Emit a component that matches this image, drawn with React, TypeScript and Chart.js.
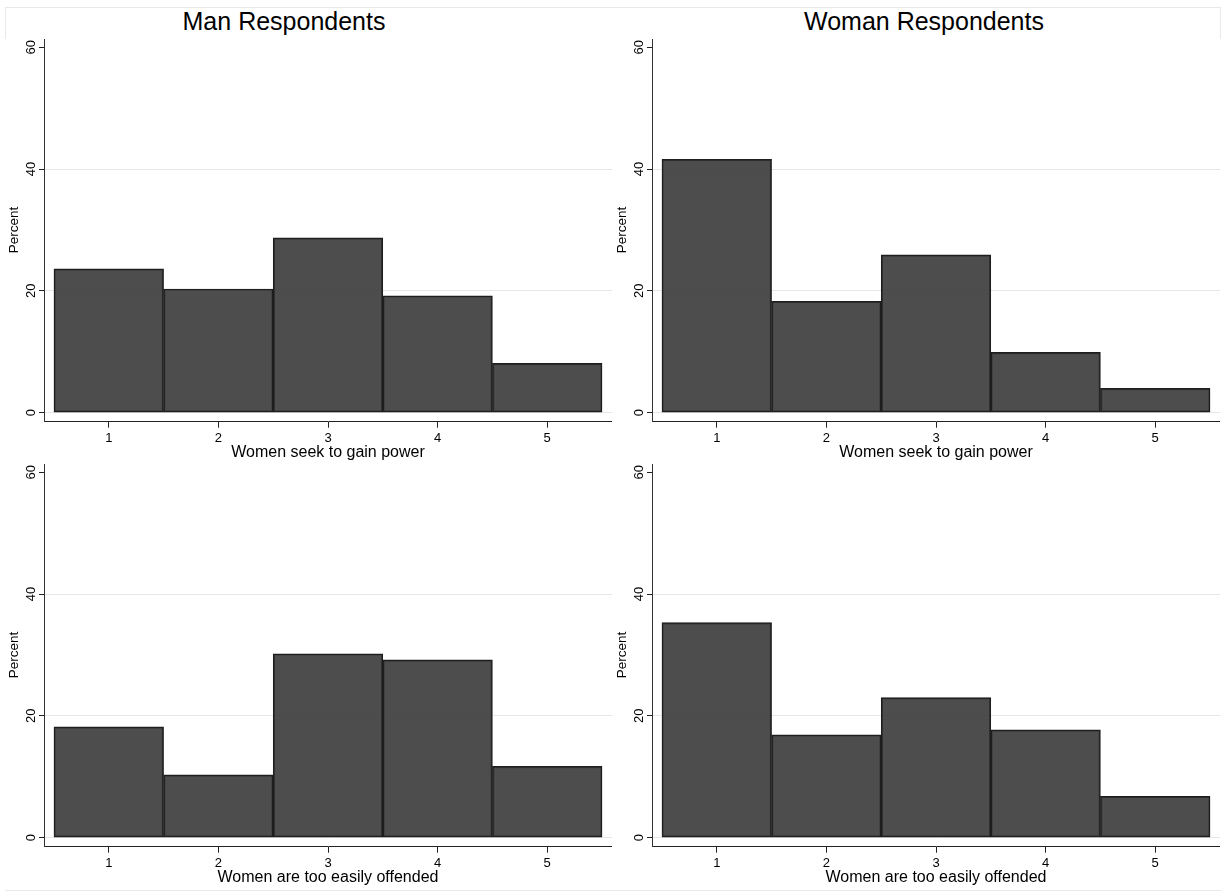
import React, { useEffect, useRef } from "react";
import { Chart, registerables } from "chart.js";

Chart.register(...registerables);

// ---- data ----
const categories = [1, 2, 3, 4, 5];
const manSeekPower = [23.6, 20.3, 28.7, 19.2, 8.1];
const womanSeekPower = [41.6, 18.3, 25.9, 9.9, 4.0];
const manEasilyOffended = [18.2, 10.3, 30.2, 29.2, 11.7];
const womanEasilyOffended = [35.3, 16.9, 23.0, 17.7, 6.8];
const yTickValues = [0, 20, 40, 60];
const columnTitles = ["Man Respondents", "Woman Respondents"];
const xTitles = ["Women seek to gain power", "Women are too easily offended"];
const yTitle = "Percent";

const FONT = '"Liberation Sans", Arial, Helvetica, sans-serif';

const textPlugin = {
  id: "stataText",
  afterDraw(chart: any) {
    const ctx = chart.ctx;
    const xs = chart.scales.x;
    const ys = chart.scales.y;
    const area = chart.chartArea;
    const xTitle = chart.options.plugins.stataText.xTitle;
    ctx.save();
    ctx.fillStyle = "#000";
    // x tick labels
    ctx.font = `13px ${FONT}`;
    ctx.textAlign = "center";
    ctx.textBaseline = "alphabetic";
    categories.forEach((v) => {
      ctx.fillText(String(v), xs.getPixelForValue(v), area.bottom + 20);
    });
    // x title
    ctx.font = `16px ${FONT}`;
    ctx.fillText(xTitle, (area.left + area.right) / 2, area.bottom + 35.6);
    // y tick labels (rotated)
    ctx.font = `13px ${FONT}`;
    yTickValues.forEach((v) => {
      ctx.save();
      ctx.translate(area.left - 9.5, ys.getPixelForValue(v));
      ctx.rotate(-Math.PI / 2);
      ctx.textAlign = "center";
      ctx.textBaseline = "alphabetic";
      ctx.fillText(String(v), 0, 0);
      ctx.restore();
    });
    // y title
    ctx.font = `13.5px ${FONT}`;
    ctx.save();
    const midY =
      (ys.getPixelForValue(yTickValues[0]) +
        ys.getPixelForValue(yTickValues[yTickValues.length - 1])) /
      2;
    ctx.translate(14, midY);
    ctx.rotate(-Math.PI / 2);
    ctx.textAlign = "center";
    ctx.textBaseline = "middle";
    ctx.fillText(yTitle, 0, 0);
    ctx.restore();
    ctx.restore();
  },
};

function Panel({
  values,
  xTitle,
  left,
  top,
}: {
  values: number[];
  xTitle: string;
  left: number;
  top: number;
}) {
  const ref = useRef<HTMLCanvasElement | null>(null);
  useEffect(() => {
    if (!ref.current) return;
    const chart = new Chart(ref.current, {
      type: "bar",
      data: {
        datasets: [
          {
            data: categories.map((c, i) => ({ x: c, y: values[i] })),
            backgroundColor: "rgba(62,62,62,0.92)",
            borderColor: "#1e1e1e",
            borderWidth: 1.5,
            borderSkipped: false,
            barPercentage: 1,
            categoryPercentage: 1,
          } as any,
        ],
      },
      options: {
        responsive: false,
        maintainAspectRatio: false,
        animation: false,
        layout: { padding: { top: 1.3, left: 0, right: 0, bottom: 0 } },
        plugins: {
          legend: { display: false },
          tooltip: { enabled: false },
          stataText: { xTitle },
        } as any,
        scales: {
          x: {
            type: "linear",
            offset: false,
            min: 0.409,
            max: 5.591,
            afterBuildTicks: (s: any) => {
              s.ticks = categories.map((v) => ({ value: v }));
            },
            afterFit: (s: any) => {
              s.height = 42.3;
            },
            ticks: { display: false },
            grid: {
              offset: false,
              drawOnChartArea: false,
              drawTicks: true,
              tickLength: 6,
              tickColor: "#222",
              color: "#222",
            },
            border: { display: true, color: "#222", width: 1 },
          },
          y: {
            type: "linear",
            min: -1.48,
            max: 61.3,
            afterBuildTicks: (s: any) => {
              s.ticks = yTickValues.map((v) => ({ value: v }));
            },
            afterFit: (s: any) => {
              s.width = 44;
            },
            ticks: { display: false },
            grid: {
              drawTicks: true,
              tickLength: 5,
              tickColor: "#222",
              color: (c: any) =>
                c.tick && c.tick.value === 60 ? "rgba(0,0,0,0)" : "#e6e6e6",
              lineWidth: 1,
            },
            border: { display: true, color: "#333", width: 1 },
          },
        },
      },
      plugins: [textPlugin as any],
    });
    return () => chart.destroy();
  }, [values, xTitle]);
  return (
    <canvas
      ref={ref}
      width={612}
      height={426}
      style={{
        position: "absolute",
        left,
        top,
        width: 612,
        height: 426,
      }}
    />
  );
}

export default function App() {
  const line = "#e9e9e9";
  return (
    <div
      style={{
        position: "absolute",
        left: 0,
        top: 0,
        width: 1225,
        height: 893,
        background: "#fff",
        overflow: "hidden",
        fontFamily: FONT,
      }}
    >
      {/* faint outer frame */}
      <div style={{ position: "absolute", left: 5, top: 7, width: 1216, height: 1, background: line }} />
      <div style={{ position: "absolute", left: 5, top: 7, width: 1, height: 32, background: line }} />
      <div style={{ position: "absolute", left: 1220, top: 7, width: 1, height: 32, background: line }} />
      <div style={{ position: "absolute", left: 5, top: 890, width: 1216, height: 1, background: line }} />
      {/* column titles */}
      {columnTitles.map((t, i) => (
        <div
          key={t}
          style={{
            position: "absolute",
            left: (i === 0 ? 284 : 924) - 200,
            width: 400,
            top: 8.8,
            fontSize: 25,
            lineHeight: "25px",
            textAlign: "center",
            color: "#000",
            whiteSpace: "nowrap",
          }}
        >
          {t}
        </div>
      ))}
      <Panel values={manSeekPower} xTitle={xTitles[0]} left={0} top={38} />
      <Panel values={womanSeekPower} xTitle={xTitles[0]} left={608} top={38} />
      <Panel values={manEasilyOffended} xTitle={xTitles[1]} left={0} top={463} />
      <Panel values={womanEasilyOffended} xTitle={xTitles[1]} left={608} top={463} />
    </div>
  );
}
